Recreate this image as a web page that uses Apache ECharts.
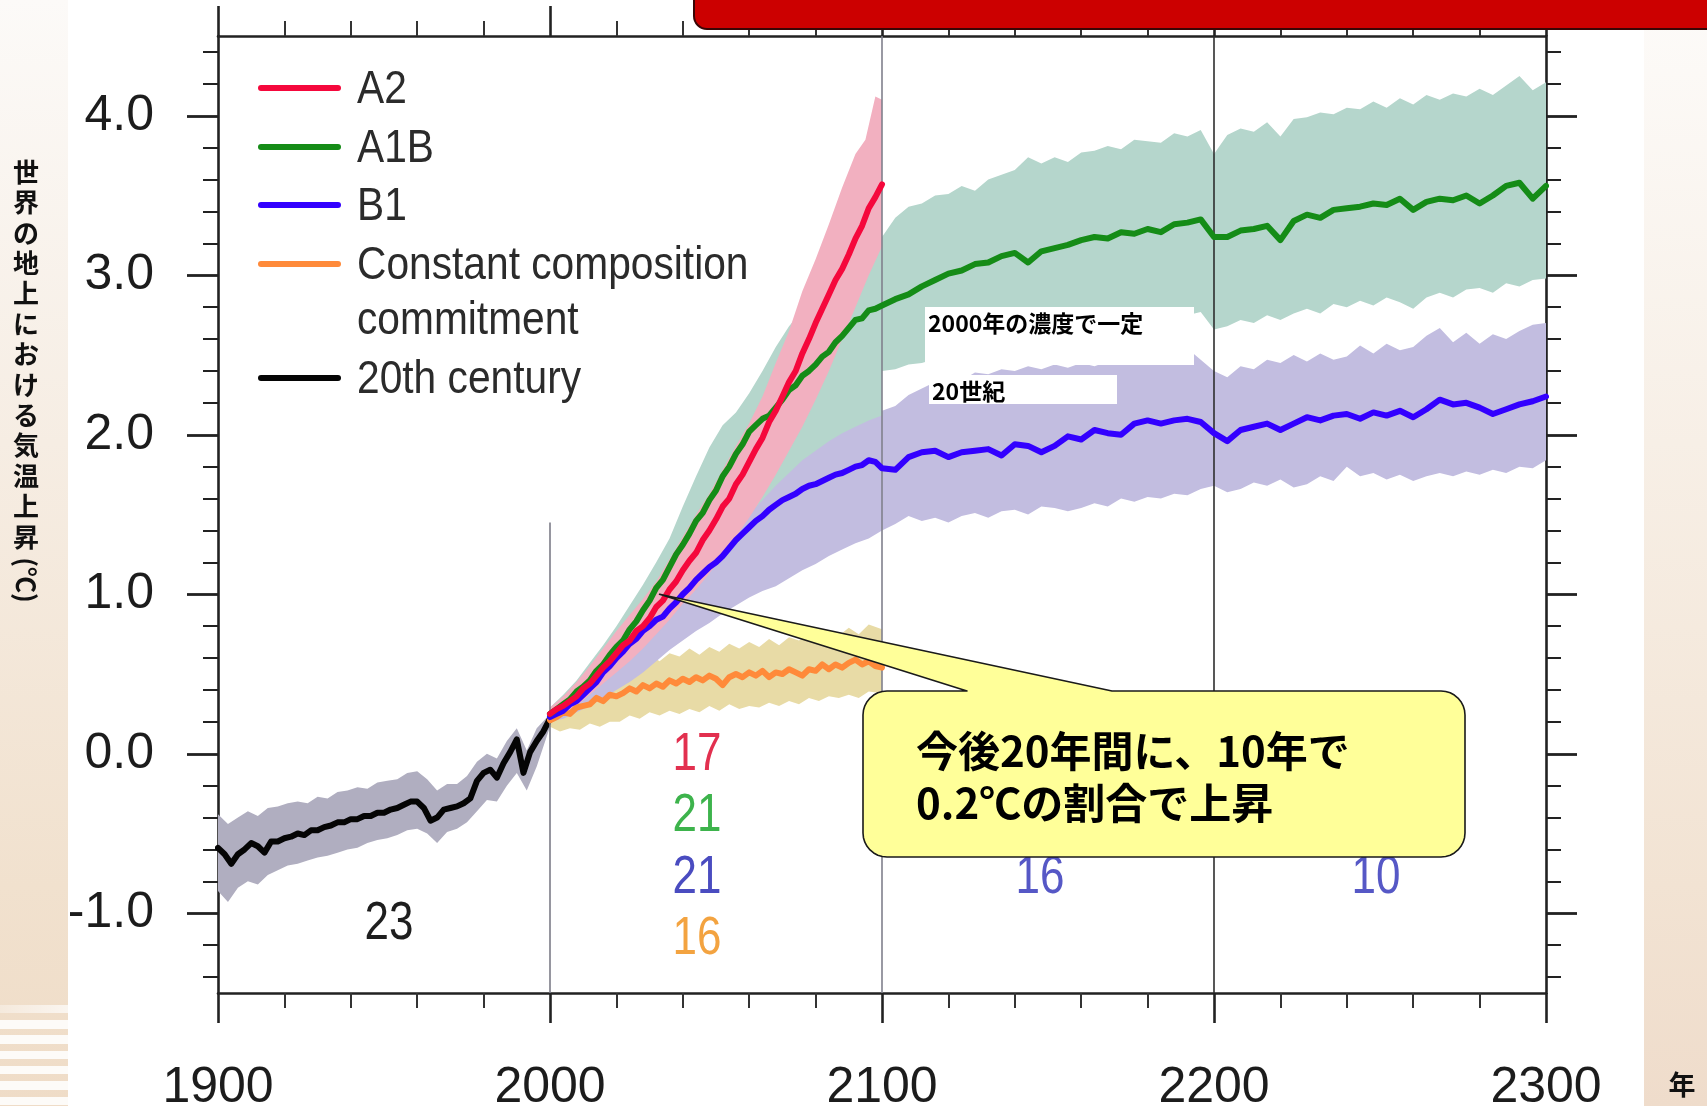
<!DOCTYPE html>
<html lang="ja">
<head>
<meta charset="utf-8">
<title>世界の地上における気温上昇</title>
<script src="https://cdn.jsdelivr.net/npm/echarts@6/dist/echarts.min.js"></script>
<style>
  html, body { margin: 0; padding: 0; background: #fff; }
  #page { position: relative; width: 1707px; height: 1106px; overflow: hidden; background: #fff; }
  #stripL { position: absolute; left: 0; top: 0; width: 68px; height: 1106px;
    background: linear-gradient(to bottom, #fcfaf8 0%, #f6ede3 40%, #f1e1ce 80%, #efdcc7 100%); }
  #stripL .fade { position: absolute; left: 0; top: 1005px; width: 68px; height: 8px;
    background: linear-gradient(to right, rgba(255,255,255,0.35), rgba(255,255,255,0.7)); }
  #stripL .bands { position: absolute; left: 0; top: 1020px; width: 68px; height: 86px;
    background: repeating-linear-gradient(to bottom, #fdfbf8 0px, #fdfbf8 8.5px, transparent 8.5px, transparent 15.3px); }
  #stripR { position: absolute; left: 1644px; top: 0; width: 63px; height: 1106px;
    background: linear-gradient(to bottom, #fdfbf9 0%, #f7efe6 40%, #f2e3d3 80%, #efdccb 100%); }
  #banner { position: absolute; left: 693px; top: -14px; width: 1040px; height: 40px;
    background: #cc0000; border: 2px solid #3a0505; border-bottom-left-radius: 14px; }
  #chart { position: absolute; left: 0; top: 0; width: 1707px; height: 1106px; }
</style>
</head>
<body>
<div id="page">
  <div id="stripL"><div class="fade"></div><div class="bands"></div></div>
  <div id="stripR"></div>
  <div id="chart"></div>
  <div id="banner"></div>
</div>
<script>
// ---- Temperature change relative to 1980-1999 (°C), [year, value] ----
const CENTURY_LINE = [[1900,-0.59],[1902,-0.63],[1904,-0.69],[1906,-0.63],[1908,-0.60],[1910,-0.56],[1912,-0.58],[1914,-0.62],[1916,-0.55],[1918,-0.55],[1920,-0.53],[1922,-0.52],[1924,-0.50],[1926,-0.51],[1928,-0.48],[1930,-0.48],[1932,-0.46],[1934,-0.45],[1936,-0.43],[1938,-0.43],[1940,-0.41],[1942,-0.41],[1944,-0.39],[1946,-0.39],[1948,-0.37],[1950,-0.37],[1952,-0.35],[1954,-0.34],[1956,-0.32],[1958,-0.30],[1960,-0.30],[1962,-0.34],[1964,-0.42],[1966,-0.40],[1968,-0.35],[1970,-0.34],[1972,-0.33],[1974,-0.31],[1976,-0.28],[1978,-0.17],[1980,-0.12],[1982,-0.10],[1984,-0.15],[1986,-0.06],[1988,0.01],[1990,0.09],[1992,-0.12],[1994,0.01],[1996,0.08],[1998,0.14],[2000,0.22]];
const CENTURY_UPPER = [[1900,-0.38],[1903,-0.44],[1906,-0.40],[1909,-0.36],[1912,-0.39],[1915,-0.34],[1918,-0.33],[1921,-0.31],[1924,-0.30],[1927,-0.31],[1930,-0.27],[1933,-0.28],[1936,-0.24],[1939,-0.23],[1942,-0.21],[1945,-0.22],[1948,-0.18],[1951,-0.17],[1954,-0.16],[1957,-0.12],[1960,-0.11],[1963,-0.16],[1966,-0.23],[1969,-0.19],[1972,-0.19],[1975,-0.14],[1978,-0.05],[1981,0.00],[1984,-0.03],[1987,0.08],[1990,0.16],[1993,0.02],[1996,0.16],[2000,0.25]];
const CENTURY_LOWER = [[1900,-0.86],[1903,-0.93],[1906,-0.84],[1909,-0.80],[1912,-0.82],[1915,-0.76],[1918,-0.73],[1921,-0.70],[1924,-0.69],[1927,-0.67],[1930,-0.65],[1933,-0.64],[1936,-0.62],[1939,-0.60],[1942,-0.59],[1945,-0.56],[1948,-0.54],[1951,-0.53],[1954,-0.51],[1957,-0.48],[1960,-0.47],[1963,-0.50],[1966,-0.56],[1969,-0.49],[1972,-0.47],[1975,-0.43],[1978,-0.36],[1981,-0.29],[1984,-0.30],[1987,-0.20],[1990,-0.12],[1993,-0.23],[1996,-0.08],[2000,0.17]];

const A2_LINE = [[2000,0.25],[2002,0.28],[2004,0.30],[2006,0.33],[2008,0.36],[2010,0.41],[2012,0.44],[2014,0.49],[2016,0.54],[2018,0.58],[2020,0.63],[2022,0.68],[2024,0.71],[2026,0.77],[2028,0.80],[2030,0.85],[2032,0.92],[2034,0.96],[2036,1.03],[2038,1.08],[2040,1.15],[2042,1.21],[2044,1.26],[2046,1.34],[2048,1.40],[2050,1.47],[2052,1.55],[2054,1.60],[2056,1.69],[2058,1.75],[2060,1.83],[2062,1.91],[2064,1.98],[2066,2.08],[2068,2.15],[2070,2.24],[2072,2.33],[2074,2.40],[2076,2.51],[2078,2.60],[2080,2.70],[2082,2.79],[2084,2.88],[2086,2.97],[2088,3.04],[2090,3.13],[2092,3.23],[2094,3.31],[2096,3.42],[2098,3.49],[2100,3.57]];
const A2_UPPER = [[2000,0.29],[2004,0.36],[2008,0.45],[2012,0.55],[2016,0.66],[2020,0.77],[2024,0.87],[2028,0.97],[2032,1.08],[2036,1.22],[2040,1.36],[2044,1.50],[2048,1.63],[2052,1.78],[2056,1.93],[2060,2.07],[2064,2.24],[2068,2.45],[2072,2.65],[2076,2.90],[2080,3.10],[2084,3.32],[2088,3.55],[2092,3.76],[2095,3.85],[2098,4.12],[2100,4.10]];
const A2_LOWER = [[2000,0.21],[2004,0.25],[2008,0.30],[2012,0.37],[2016,0.44],[2020,0.51],[2024,0.58],[2028,0.66],[2032,0.75],[2036,0.84],[2040,0.94],[2044,1.03],[2048,1.13],[2052,1.24],[2056,1.36],[2060,1.48],[2064,1.61],[2068,1.75],[2072,1.90],[2076,2.05],[2080,2.22],[2084,2.40],[2088,2.60],[2092,2.80],[2096,3.00],[2100,3.18]];

const A1B_LINE = [[2000,0.25],[2002,0.28],[2004,0.31],[2006,0.34],[2008,0.39],[2010,0.42],[2012,0.46],[2014,0.52],[2016,0.56],[2018,0.62],[2020,0.67],[2022,0.71],[2024,0.78],[2026,0.83],[2028,0.90],[2030,0.96],[2032,1.04],[2034,1.09],[2036,1.17],[2038,1.25],[2040,1.31],[2042,1.38],[2044,1.46],[2046,1.51],[2048,1.59],[2050,1.65],[2052,1.74],[2054,1.80],[2056,1.88],[2058,1.94],[2060,2.02],[2062,2.06],[2064,2.10],[2066,2.12],[2068,2.17],[2070,2.22],[2072,2.28],[2074,2.31],[2076,2.37],[2078,2.40],[2080,2.44],[2082,2.49],[2084,2.52],[2086,2.58],[2088,2.62],[2090,2.67],[2092,2.72],[2094,2.73],[2096,2.78],[2098,2.79],[2100,2.81],
  [2104,2.85],[2108,2.88],[2112,2.93],[2116,2.97],[2120,3.01],[2124,3.03],[2128,3.07],[2132,3.08],[2136,3.12],[2140,3.14],[2144,3.08],[2148,3.15],[2152,3.17],[2156,3.19],[2160,3.22],[2164,3.24],[2168,3.23],[2172,3.27],[2176,3.26],[2180,3.29],[2184,3.27],[2188,3.32],[2192,3.33],[2196,3.35],[2200,3.24],[2204,3.24],[2208,3.28],[2212,3.29],[2216,3.31],[2220,3.22],[2224,3.34],[2228,3.38],[2232,3.36],[2236,3.41],[2240,3.42],[2244,3.43],[2248,3.45],[2252,3.44],[2256,3.48],[2260,3.41],[2264,3.46],[2268,3.48],[2272,3.47],[2276,3.50],[2280,3.45],[2284,3.50],[2288,3.56],[2292,3.58],[2296,3.48],[2300,3.56]];
const A1B_UPPER = [[2000,0.29],[2004,0.37],[2008,0.46],[2012,0.57],[2016,0.68],[2020,0.80],[2024,0.93],[2028,1.06],[2032,1.20],[2036,1.35],[2040,1.55],[2044,1.74],[2048,1.92],[2052,2.06],[2056,2.14],[2060,2.26],[2064,2.40],[2068,2.55],[2072,2.68],[2076,2.78],[2080,2.86],[2084,2.94],[2088,3.02],[2092,3.10],[2096,3.17],[2100,3.24],
  [2104,3.36],[2108,3.43],[2112,3.45],[2116,3.50],[2120,3.51],[2124,3.56],[2128,3.53],[2132,3.60],[2136,3.63],[2140,3.66],[2144,3.74],[2148,3.70],[2152,3.74],[2156,3.71],[2160,3.77],[2164,3.78],[2168,3.81],[2172,3.79],[2176,3.85],[2180,3.84],[2184,3.83],[2188,3.89],[2192,3.87],[2196,3.91],[2200,3.76],[2204,3.88],[2208,3.92],[2212,3.90],[2216,3.96],[2220,3.87],[2224,3.98],[2228,3.99],[2232,4.02],[2236,4.01],[2240,4.05],[2244,4.04],[2248,4.09],[2252,4.05],[2256,4.11],[2260,4.07],[2264,4.13],[2268,4.10],[2272,4.14],[2276,4.12],[2280,4.17],[2284,4.13],[2288,4.19],[2292,4.25],[2296,4.16],[2300,4.21]];
const A1B_LOWER = [[2000,0.22],[2004,0.26],[2008,0.32],[2012,0.38],[2016,0.45],[2020,0.53],[2024,0.62],[2028,0.71],[2032,0.80],[2036,0.90],[2040,1.00],[2044,1.10],[2048,1.20],[2052,1.31],[2056,1.41],[2060,1.50],[2064,1.59],[2068,1.68],[2072,1.76],[2076,1.84],[2080,1.90],[2084,1.96],[2088,2.01],[2092,2.05],[2096,2.09],[2100,2.12],
  [2100,2.40],[2104,2.41],[2108,2.44],[2112,2.45],[2120,2.50],[2130,2.54],[2140,2.58],[2150,2.61],[2160,2.64],[2170,2.67],[2180,2.70],[2190,2.74],[2196,2.77],[2200,2.66],[2204,2.68],[2208,2.72],[2212,2.70],[2216,2.75],[2220,2.72],[2224,2.76],[2228,2.79],[2232,2.76],[2236,2.82],[2240,2.80],[2244,2.84],[2248,2.81],[2252,2.86],[2256,2.83],[2260,2.79],[2264,2.86],[2268,2.89],[2272,2.86],[2276,2.91],[2280,2.92],[2284,2.89],[2288,2.95],[2292,2.93],[2296,2.97],[2300,2.98]];

const B1_LINE = [[2000,0.23],[2002,0.25],[2004,0.27],[2006,0.31],[2008,0.33],[2010,0.37],[2012,0.41],[2014,0.45],[2016,0.51],[2018,0.55],[2020,0.60],[2022,0.64],[2024,0.69],[2026,0.72],[2028,0.77],[2030,0.80],[2032,0.84],[2034,0.86],[2036,0.91],[2038,0.95],[2040,1.00],[2042,1.04],[2044,1.09],[2046,1.13],[2048,1.17],[2050,1.20],[2052,1.24],[2054,1.29],[2056,1.34],[2058,1.38],[2060,1.42],[2062,1.46],[2064,1.49],[2066,1.53],[2068,1.56],[2070,1.59],[2072,1.61],[2074,1.63],[2076,1.66],[2078,1.68],[2080,1.69],[2082,1.71],[2084,1.73],[2086,1.75],[2088,1.76],[2090,1.78],[2092,1.80],[2094,1.81],[2096,1.84],[2098,1.83],[2100,1.79],
  [2104,1.78],[2108,1.86],[2112,1.89],[2116,1.90],[2120,1.86],[2124,1.89],[2128,1.90],[2132,1.91],[2136,1.87],[2140,1.94],[2144,1.93],[2148,1.89],[2152,1.93],[2156,1.99],[2160,1.97],[2164,2.03],[2168,2.01],[2172,2.00],[2176,2.07],[2180,2.09],[2184,2.07],[2188,2.09],[2192,2.10],[2196,2.08],[2200,2.01],[2204,1.96],[2208,2.03],[2212,2.05],[2216,2.07],[2220,2.03],[2224,2.07],[2228,2.11],[2232,2.09],[2236,2.12],[2240,2.13],[2244,2.10],[2248,2.14],[2252,2.12],[2256,2.15],[2260,2.11],[2264,2.16],[2268,2.22],[2272,2.19],[2276,2.20],[2280,2.17],[2284,2.13],[2288,2.16],[2292,2.19],[2296,2.21],[2300,2.24]];
const B1_UPPER = [[2000,0.26],[2004,0.33],[2008,0.41],[2012,0.50],[2016,0.59],[2020,0.69],[2024,0.80],[2028,0.91],[2032,1.02],[2036,1.13],[2040,1.24],[2044,1.35],[2048,1.46],[2052,1.56],[2056,1.66],[2060,1.75],[2064,1.83],[2068,1.91],[2072,1.98],[2076,2.04],[2080,2.10],[2084,2.15],[2088,2.21],[2092,2.25],[2096,2.28],[2100,2.30],
  [2100,2.15],[2104,2.18],[2108,2.25],[2112,2.29],[2116,2.33],[2120,2.36],[2124,2.34],[2128,2.39],[2132,2.38],[2136,2.41],[2140,2.40],[2144,2.43],[2148,2.41],[2152,2.44],[2156,2.42],[2160,2.45],[2164,2.43],[2168,2.46],[2172,2.44],[2176,2.47],[2180,2.45],[2184,2.48],[2188,2.44],[2192,2.54],[2196,2.47],[2200,2.40],[2204,2.36],[2208,2.43],[2212,2.41],[2216,2.47],[2220,2.45],[2224,2.50],[2228,2.46],[2232,2.51],[2236,2.47],[2240,2.49],[2244,2.56],[2248,2.51],[2252,2.57],[2256,2.53],[2260,2.55],[2264,2.62],[2268,2.67],[2272,2.58],[2276,2.64],[2280,2.57],[2284,2.63],[2288,2.60],[2292,2.65],[2296,2.69],[2300,2.70]];
const B1_LOWER = [[2000,0.20],[2004,0.22],[2008,0.26],[2012,0.30],[2016,0.35],[2020,0.40],[2024,0.45],[2028,0.51],[2032,0.58],[2036,0.65],[2040,0.71],[2044,0.77],[2048,0.82],[2052,0.88],[2056,0.93],[2060,0.98],[2064,1.02],[2068,1.05],[2072,1.10],[2076,1.15],[2080,1.19],[2084,1.24],[2088,1.28],[2092,1.32],[2096,1.35],[2100,1.40],
  [2104,1.44],[2108,1.49],[2112,1.46],[2116,1.48],[2120,1.45],[2124,1.49],[2128,1.51],[2132,1.48],[2136,1.52],[2140,1.53],[2144,1.50],[2148,1.55],[2152,1.54],[2156,1.52],[2160,1.54],[2164,1.57],[2168,1.55],[2172,1.60],[2176,1.58],[2180,1.61],[2184,1.60],[2188,1.63],[2192,1.62],[2196,1.66],[2200,1.68],[2204,1.64],[2208,1.66],[2212,1.70],[2216,1.68],[2220,1.72],[2224,1.67],[2228,1.69],[2232,1.74],[2236,1.71],[2240,1.80],[2244,1.74],[2248,1.76],[2252,1.72],[2256,1.75],[2260,1.71],[2264,1.74],[2268,1.76],[2272,1.74],[2276,1.77],[2280,1.75],[2284,1.78],[2288,1.76],[2292,1.80],[2296,1.79],[2300,1.84]];

const CC_LINE = [[2000,0.21],[2002,0.23],[2004,0.26],[2006,0.25],[2008,0.29],[2010,0.30],[2012,0.31],[2014,0.35],[2016,0.33],[2018,0.37],[2020,0.36],[2022,0.38],[2024,0.41],[2026,0.39],[2028,0.43],[2030,0.41],[2032,0.44],[2034,0.42],[2036,0.46],[2038,0.44],[2040,0.47],[2042,0.45],[2044,0.48],[2046,0.46],[2048,0.49],[2050,0.47],[2052,0.43],[2054,0.48],[2056,0.50],[2058,0.48],[2060,0.51],[2062,0.49],[2064,0.52],[2066,0.48],[2068,0.51],[2070,0.50],[2072,0.53],[2074,0.51],[2076,0.49],[2078,0.53],[2080,0.52],[2082,0.56],[2084,0.53],[2086,0.56],[2088,0.54],[2090,0.57],[2092,0.59],[2094,0.56],[2096,0.58],[2098,0.55],[2100,0.54]];
const CC_UPPER = [[2000,0.23],[2003,0.33],[2006,0.40],[2009,0.44],[2012,0.50],[2015,0.48],[2018,0.55],[2021,0.53],[2024,0.58],[2027,0.57],[2030,0.62],[2033,0.58],[2036,0.63],[2039,0.61],[2042,0.66],[2045,0.62],[2048,0.67],[2051,0.64],[2054,0.69],[2057,0.66],[2060,0.70],[2063,0.67],[2066,0.72],[2069,0.68],[2072,0.73],[2075,0.71],[2078,0.75],[2081,0.72],[2084,0.77],[2087,0.74],[2090,0.79],[2093,0.75],[2096,0.81],[2100,0.78]];
const CC_LOWER = [[2000,0.17],[2003,0.14],[2006,0.16],[2009,0.15],[2012,0.19],[2015,0.17],[2018,0.20],[2021,0.20],[2024,0.24],[2027,0.22],[2030,0.26],[2033,0.24],[2036,0.27],[2039,0.25],[2042,0.28],[2045,0.26],[2048,0.30],[2051,0.27],[2054,0.31],[2057,0.28],[2060,0.30],[2063,0.29],[2066,0.32],[2069,0.30],[2072,0.33],[2075,0.31],[2078,0.35],[2081,0.33],[2084,0.36],[2087,0.35],[2090,0.37],[2093,0.35],[2096,0.39],[2100,0.38]];

// ---- axes ----
const YEAR_MIN = 1900, YEAR_MAX = 2300, YEAR_STEP = 100;
const TEMP_MIN = -1.5, TEMP_MAX = 4.5;
const MAJOR_Y_TICKS = [-1, 0, 1, 2, 3, 4];
const MINOR_Y_TICKS = [-1.4,-1.2,-0.8,-0.6,-0.4,-0.2,0.2,0.4,0.6,0.8,1.2,1.4,1.6,1.8,2.2,2.4,2.6,2.8,3.2,3.4,3.6,3.8,4.2,4.4];
const ERA_LINES = [2000, 2100, 2200];
const ERA_2000_TOP = 1.45;

// ---- text ----
const Y_TITLE = '世界の地上における気温上昇';
const Y_UNIT = '(℃)';
const X_UNIT = '年';
const LEGEND_NAMES = [['A2'], ['A1B'], ['B1'], ['Constant composition', 'commitment'], ['20th century']];
const MODEL_COUNTS_20C = ['23'];
const MODEL_COUNTS_21C = ['17', '21', '21', '16'];
const MODEL_COUNTS_22C = ['16'];
const MODEL_COUNTS_23C = ['10'];
const NOTE_CONST = '2000年の濃度で一定';
const NOTE_20C = '20世紀';
const CALLOUT_LINES = ['今後20年間に、10年で', '0.2℃の割合で上昇'];
const CALLOUT_TIP = [2033, 1.0];

// ---- styles ----
const C = {
  a2: '#f5083c', a1b: '#158c17', b1: '#3300ff', cc: '#ff8a3a', c20: '#050505',
  a2Band: '#f2b0c0', a1bBand: '#b5d6cc', b1Band: '#c2bde0', ccBand: '#e8dba6', c20Band: '#b0aec0'
};
const LATIN = '"Liberation Sans", Arial, Helvetica, sans-serif';
const CJK = '"Noto Sans CJK JP", "Noto Sans CJK SC", sans-serif';

const chart = echarts.init(document.getElementById('chart'), null, { renderer: 'canvas' });

function band(name, upper, lower, fill) {
  return {
    type: 'custom', name, xAxisIndex: 0, yAxisIndex: 0, silent: true, clip: true, z: 2,
    data: [upper[0]],
    renderItem(params, api) {
      const pts = upper.map(p => api.coord(p)).concat(lower.slice().reverse().map(p => api.coord(p)));
      return { type: 'polygon', shape: { points: pts }, style: { fill, blend: 'multiply' } };
    }
  };
}
function line(name, data, color, z, extra) {
  return Object.assign({
    type: 'line', name, data, xAxisIndex: 0, yAxisIndex: 0, showSymbol: false, symbol: 'none',
    silent: true, clip: true, z,
    lineStyle: { color, width: 6, join: 'round', cap: 'round' }
  }, extra || {});
}

const tickLabel = { fontSize: 50, color: '#1c1c1c', fontFamily: LATIN };
const axisLine = { onZero: false, show: true, lineStyle: { color: '#222', width: 2.6 } };

function xAxis(position, showLabel) {
  return {
    type: 'value', position, min: YEAR_MIN, max: YEAR_MAX, interval: YEAR_STEP,
    axisLine, splitLine: { show: false }, minorSplitLine: { show: false },
    axisTick: { show: true, inside: false, length: 30, lineStyle: { color: '#222', width: 2.6 } },
    minorTick: { show: true, splitNumber: 5, length: 15, lineStyle: { color: '#333', width: 2 } },
    axisLabel: Object.assign({ show: showLabel, margin: 70, formatter: v => String(v) }, tickLabel)
  };
}
function yAxis(position, major, showLabel) {
  const vals = major ? MAJOR_Y_TICKS : MINOR_Y_TICKS;
  return {
    type: 'value', position, min: TEMP_MIN, max: TEMP_MAX,
    axisLine: major ? axisLine : { show: false, onZero: false },
    splitLine: { show: false },
    axisTick: { show: true, inside: false, length: major ? 31 : 15, customValues: vals,
      lineStyle: { color: '#222', width: major ? 2.8 : 2 } },
    axisLabel: Object.assign({ show: showLabel, margin: 64, customValues: vals,
      formatter: v => v.toFixed(1) }, tickLabel)
  };
}

const option = {
  animation: false,
  backgroundColor: 'transparent',
  grid: { left: 218, right: 161, top: 36, bottom: 113, containLabel: false, outerBoundsMode: 'none' },
  xAxis: [xAxis('bottom', true), xAxis('top', false)],
  yAxis: [yAxis('left', true, true), yAxis('left', false, false), yAxis('right', true, false), yAxis('right', false, false)],
  series: [
    band('20th century range', CENTURY_UPPER, CENTURY_LOWER, C.c20Band),
    band('Constant composition range', CC_UPPER, CC_LOWER, C.ccBand),
    band('B1 range', B1_UPPER, B1_LOWER, C.b1Band),
    band('A1B range', A1B_UPPER, A1B_LOWER, C.a1bBand),
    band('A2 range', A2_UPPER, A2_LOWER, C.a2Band),
    line('20th century', CENTURY_LINE, C.c20, 4, {
      markLine: {
        silent: true, symbol: 'none', label: { show: false },
        lineStyle: { type: 'solid', width: 1.6, color: '#7c7c88' },
        data: [
          [{ coord: [ERA_LINES[0], TEMP_MIN] }, { coord: [ERA_LINES[0], ERA_2000_TOP] }],
          { xAxis: ERA_LINES[1], lineStyle: { color: '#80808c' } },
          { xAxis: ERA_LINES[2], lineStyle: { color: '#2e2e2e' } }
        ]
      }
    }),
    line('Constant composition commitment', CC_LINE, C.cc, 5),
    line('B1', B1_LINE, C.b1, 6),
    line('A1B', A1B_LINE, C.a1b, 7),
    line('A2', A2_LINE, C.a2, 8)
  ]
};
chart.setOption(option);

// ---- annotations layered over the plot ----
function text(x, y, str, style, extra) {
  return Object.assign({
    type: 'text', x, y, z: 100, silent: true,
    style: Object.assign({ text: str, x: 0, y: 0 }, style)
  }, extra || {});
}
function latin(size, color, align) {
  return { fontSize: size, fontFamily: LATIN, fill: color, align: align, textAlign: align,
    verticalAlign: 'middle', textVerticalAlign: 'middle' };
}
function cjk(size, color, align) {
  return { fontSize: size, fontFamily: CJK, fontWeight: 'bold', fill: color, align: align, textAlign: align,
    verticalAlign: 'middle', textVerticalAlign: 'middle' };
}

const tip = chart.convertToPixel({ xAxisIndex: 0, yAxisIndex: 0 }, CALLOUT_TIP);
const g = [];

// vertical axis title, one glyph per row
Y_TITLE.split('').forEach((ch, i) => g.push(text(26, 172 + i * 30.4, ch, cjk(26, '#111', 'center'))));
g.push(text(26, 580, Y_UNIT, cjk(26, '#111', 'center'), { rotation: -Math.PI / 2 }));
g.push(text(1682, 1085, X_UNIT, cjk(27, '#111', 'center')));

// legend
const legendColors = [C.a2, C.a1b, C.b1, C.cc, C.c20];
const legendRows = [88, 147, 205, 264, 378];
LEGEND_NAMES.forEach((lines, i) => {
  g.push({ type: 'line', z: 100, silent: true,
    shape: { x1: 261, y1: legendRows[i], x2: 338, y2: legendRows[i] },
    style: { stroke: legendColors[i], lineWidth: 6, lineCap: 'round' } });
  lines.forEach((s, j) => {
    g.push(text(357, legendRows[i] + 2 + j * 55, s, latin(46, '#2b2b2b', 'left'), { scaleX: 0.885 }));
  });
});

// model counts per period
const narrow = { scaleX: 0.83 };
g.push(text(389, 924, MODEL_COUNTS_20C[0], latin(53, '#1e1e1e', 'center'), narrow));
const countColors = ['#e2304f', '#3db34c', '#4a4cc0', '#f3a340'];
const countRows = [755, 816, 878, 939];
MODEL_COUNTS_21C.forEach((s, i) => g.push(text(697, countRows[i], s, latin(53, countColors[i], 'center'), narrow)));
g.push(text(1040, 878, MODEL_COUNTS_22C[0], latin(53, '#5658c6', 'center'), narrow));
g.push(text(1376, 878, MODEL_COUNTS_23C[0], latin(53, '#5658c6', 'center'), narrow));

// Japanese notes on white boxes
g.push({ type: 'rect', z: 100, silent: true, shape: { x: 925, y: 307, width: 269, height: 58 }, style: { fill: '#fff' } });
g.push(text(928, 323, NOTE_CONST, cjk(23, '#000', 'left')));
g.push({ type: 'rect', z: 100, silent: true, shape: { x: 929, y: 375, width: 188, height: 29 }, style: { fill: '#fff' } });
g.push(text(932, 391, NOTE_20C, cjk(23, '#000', 'left')));

// callout bubble: rounded box with a pointer to the curves
const bx0 = 863, by0 = 691, bx1 = 1465, by1 = 857, r = 24, baseL = 967, baseR = 1112;
function corner(cx, cy, a0) {
  const pts = [];
  for (let k = 0; k <= 8; k++) {
    const a = (a0 + k * 90 / 8) * Math.PI / 180;
    pts.push([cx + r * Math.cos(a), cy + r * Math.sin(a)]);
  }
  return pts;
}
const bubble = [[baseL, by0], [tip[0], tip[1]], [baseR, by0]]
  .concat(corner(bx1 - r, by0 + r, -90))
  .concat(corner(bx1 - r, by1 - r, 0))
  .concat(corner(bx0 + r, by1 - r, 90))
  .concat(corner(bx0 + r, by0 + r, 180));
g.push({ type: 'polygon', z: 101, silent: true, shape: { points: bubble },
  style: { fill: '#ffff99', stroke: '#1a1a1a', lineWidth: 1.6, lineJoin: 'round' } });
g.push(text(916, 751, CALLOUT_LINES[0], cjk(42, '#000', 'left'), { z: 102 }));
g.push(text(916, 803, CALLOUT_LINES[1], cjk(42, '#000', 'left'), { z: 102 }));

chart.setOption({ graphic: { elements: g } });
</script>
</body>
</html>
